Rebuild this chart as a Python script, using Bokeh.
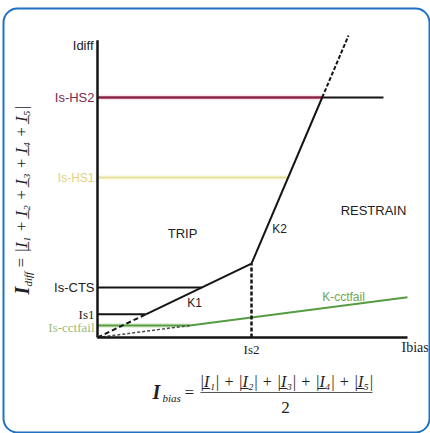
import numpy as np
from bokeh.plotting import figure
from bokeh.models import Range1d, BoxAnnotation
from bokeh.core.properties import value
from bokeh.embed import file_html
from bokeh.resources import INLINE

# ---- chart values (schematic units) ----
LEVEL_NAMES = ["Is-HS2", "Is-HS1", "Is-CTS", "Is1", "Is-cctfail"]
LEVEL_VALUES = [6.0, 4.0, 1.25, 0.58, 0.30]
IS2 = 3.85          # bias breakpoint
K1 = 0.48           # first slope
K2 = 2.35           # second slope
K_CCTFAIL = 0.13    # CT-fail slope
X_MAX = 7.75        # end of Ibias axis
Y_MAX = 7.43        # end of Idiff axis
HS2_END = 7.15      # end of the Is-HS2 line
K2_TOP = 7.55       # top of the dashed K2 extension

IS_HS2, IS_HS1, IS_CTS, IS1, IS_CCTFAIL = LEVEL_VALUES

# layout helpers (page pixels -> data units), positions only
def px(x):
    return (x - 97) / 40.0

def py(y):
    return (337 - y) / 40.0

W, H = 430, 433
p = figure(width=W, height=H, output_backend="svg", toolbar_location=None,
           x_range=Range1d(px(0), px(W)), y_range=Range1d(py(H), py(0)),
           x_axis_location=None, y_axis_location=None,
           min_border=0, min_border_left=0, min_border_right=0,
           min_border_top=0, min_border_bottom=0)
p.grid.visible = False
p.outline_line_color = None
p.background_fill_color = "white"
p.border_fill_color = "white"

BLACK = "#141414"
MAROON = "#8a2446"
YELLOW = "#e6df9c"
GREEN = "#559c42"

# characteristic geometry from the values
y_is2 = K1 * IS2
def k2_x(y):
    return IS2 + (y - y_is2) / K2
x_hs2 = k2_x(IS_HS2)
x_hs1 = k2_x(IS_HS1)
x_top = k2_x(K2_TOP)
x_cts = IS_CTS / K1
x_is1 = IS1 / K1
x_cc = IS_CCTFAIL / K_CCTFAIL

# soft halos
p.line([0, x_hs2], [IS_HS2, IS_HS2], line_color="#fbe9ef", line_width=6)
p.line([0, x_hs1], [IS_HS1, IS_HS1], line_color="#fdfbee", line_width=6)
p.line([0, x_cc], [IS_CCTFAIL, IS_CCTFAIL], line_color="#e4f2dc", line_width=5)

# setting lines
p.line([0, x_hs2], [IS_HS2, IS_HS2], line_color=MAROON, line_width=2.5)
p.line([x_hs2, HS2_END], [IS_HS2, IS_HS2], line_color=BLACK, line_width=2)
p.line([0, x_hs1], [IS_HS1, IS_HS1], line_color=YELLOW, line_width=2)
p.line([0, x_cts], [IS_CTS, IS_CTS], line_color=BLACK, line_width=2)
p.line([0, x_is1], [IS1, IS1], line_color=BLACK, line_width=2)
p.line([0, x_cc], [IS_CCTFAIL, IS_CCTFAIL], line_color=GREEN, line_width=2)

# CT fail slope
p.line([0, x_cc], [0, IS_CCTFAIL], line_color="#4a4a4a", line_width=1.5, line_dash="3 2")
p.line([x_cc, X_MAX], [IS_CCTFAIL, K_CCTFAIL * X_MAX], line_color=GREEN, line_width=2)

# K1 / K2 characteristic
p.line([0, x_is1], [0, IS1], line_color=BLACK, line_width=2, line_dash="5 3")
p.line([x_is1, IS2], [IS1, y_is2], line_color=BLACK, line_width=2)
p.line([IS2, x_hs2], [y_is2, IS_HS2], line_color=BLACK, line_width=2)
p.line([x_hs2, x_top], [IS_HS2, K2_TOP], line_color=BLACK, line_width=2, line_dash="4 2")
p.line([IS2, IS2], [0, y_is2], line_color=BLACK, line_width=2.5, line_dash="4 2")

# axes
p.line([0, 0], [0, Y_MAX], line_color=BLACK, line_width=2.5)
p.line([0, X_MAX], [0, 0], line_color=BLACK, line_width=2.5)

SANS = value("Liberation Sans")
SERIF = value("Liberation Serif")

# level labels
lab_colors = ["#7a2a4c", "#e3d27c", "#222222", "#222222", "#9bbb7c"]
lab_fonts = ["Liberation Sans", "Liberation Sans", "Liberation Sans", "Liberation Serif", "Liberation Serif"]
lab_sizes = ["13px", "12px", "13px", "13px", "13px"]
for name, val, col, fnt, sz in zip(LEVEL_NAMES, LEVEL_VALUES, lab_colors, lab_fonts, lab_sizes):
    yy = val if name != "Is-cctfail" else val - 0.05
    p.text(x=[px(94)], y=[yy], text=[name], text_align="right", text_baseline="middle",
           text_font=value(fnt), text_font_size=sz, text_color=col)

p.text(x=[px(93)], y=[py(45)], text=["Idiff"], text_align="right", text_baseline="middle",
       text_font=SANS, text_font_size="13px", text_color="#222222")
p.text(x=[IS2], y=[py(349)], text=["Is2"], text_align="center", text_baseline="middle",
       text_font=SERIF, text_font_size="13px", text_color="#222222")
p.text(x=[px(401)], y=[py(347)], text=["Ibias"], text_align="left", text_baseline="middle",
       text_font=SERIF, text_font_size="14px", text_color="#222222")

# region / slope labels
p.text(x=[px(182)], y=[py(233)], text=["TRIP"], text_align="center", text_baseline="middle",
       text_font=SANS, text_font_size="13px", text_color="#222222")
p.text(x=[px(373)], y=[py(210)], text=["RESTRAIN"], text_align="center", text_baseline="middle",
       text_font=SANS, text_font_size="13px", text_color="#222222")
p.text(x=[px(279)], y=[py(228)], text=["K2"], text_align="center", text_baseline="middle",
       text_font=SANS, text_font_size="12px", text_color="#222222")
p.text(x=[px(194)], y=[py(302)], text=["K1"], text_align="center", text_baseline="middle",
       text_font=SANS, text_font_size="12px", text_color="#222222")
p.text(x=[px(343)], y=[py(296)], text=["K-cctfail"], text_align="center", text_baseline="middle",
       text_font=SANS, text_font_size="12px", text_color="#6aa852")

# bottom formula
p.text(x=[px(152)], y=[py(391)], text=["I"], text_align="left", text_baseline="middle",
       text_font=SERIF, text_font_style="bold italic", text_font_size="20px", text_color="#222222")
p.text(x=[px(162)], y=[py(397)], text=["bias"], text_align="left", text_baseline="middle",
       text_font=SERIF, text_font_style="italic", text_font_size="11px", text_color="#222222")
p.text(x=[px(184)], y=[py(392)], text=["="], text_align="left", text_baseline="middle",
       text_font=SERIF, text_font_size="17px", text_color="#222222")
p.text(x=[px(286)], y=[py(381)], text=["|I\u0332\u2081| + |I\u0332\u2082| + |I\u0332\u2083| + |I\u0332\u2084| + |I\u0332\u2085|"],
       text_align="center", text_baseline="middle",
       text_font=SERIF, text_font_style="italic", text_font_size="16px", text_color="#222222")
p.line([px(200), px(372)], [py(392), py(392)], line_color="#555555", line_width=1)
p.text(x=[px(285)], y=[py(407)], text=["2"], text_align="center", text_baseline="middle",
       text_font=SERIF, text_font_size="17px", text_color="#222222")

# left rotated formula
ang = np.pi / 2
p.text(x=[px(21)], y=[py(294)], text=["I"], angle=ang, text_align="left", text_baseline="middle",
       text_font=SERIF, text_font_style="bold italic", text_font_size="20px", text_color="#222222")
p.text(x=[px(27)], y=[py(286)], text=["diff"], angle=ang, text_align="left", text_baseline="middle",
       text_font=SERIF, text_font_style="italic", text_font_size="11px", text_color="#222222")
p.text(x=[px(21)], y=[py(268)], text=["= |I\u0332\u2081 + I\u0332\u2082 + I\u0332\u2083 + I\u0332\u2084 + I\u0332\u2085|"],
       angle=ang, text_align="left", text_baseline="middle",
       text_font=SERIF, text_font_style="italic", text_font_size="17px", text_color="#222222")

# rounded frame
p.add_layout(BoxAnnotation(left=px(3), right=px(429), top=py(8), bottom=py(432),
                           fill_color=None, fill_alpha=0, line_color="#1f72c4",
                           line_alpha=1.0, line_width=2, border_radius=14))

open("out.html", "w").write(file_html(p, INLINE))
